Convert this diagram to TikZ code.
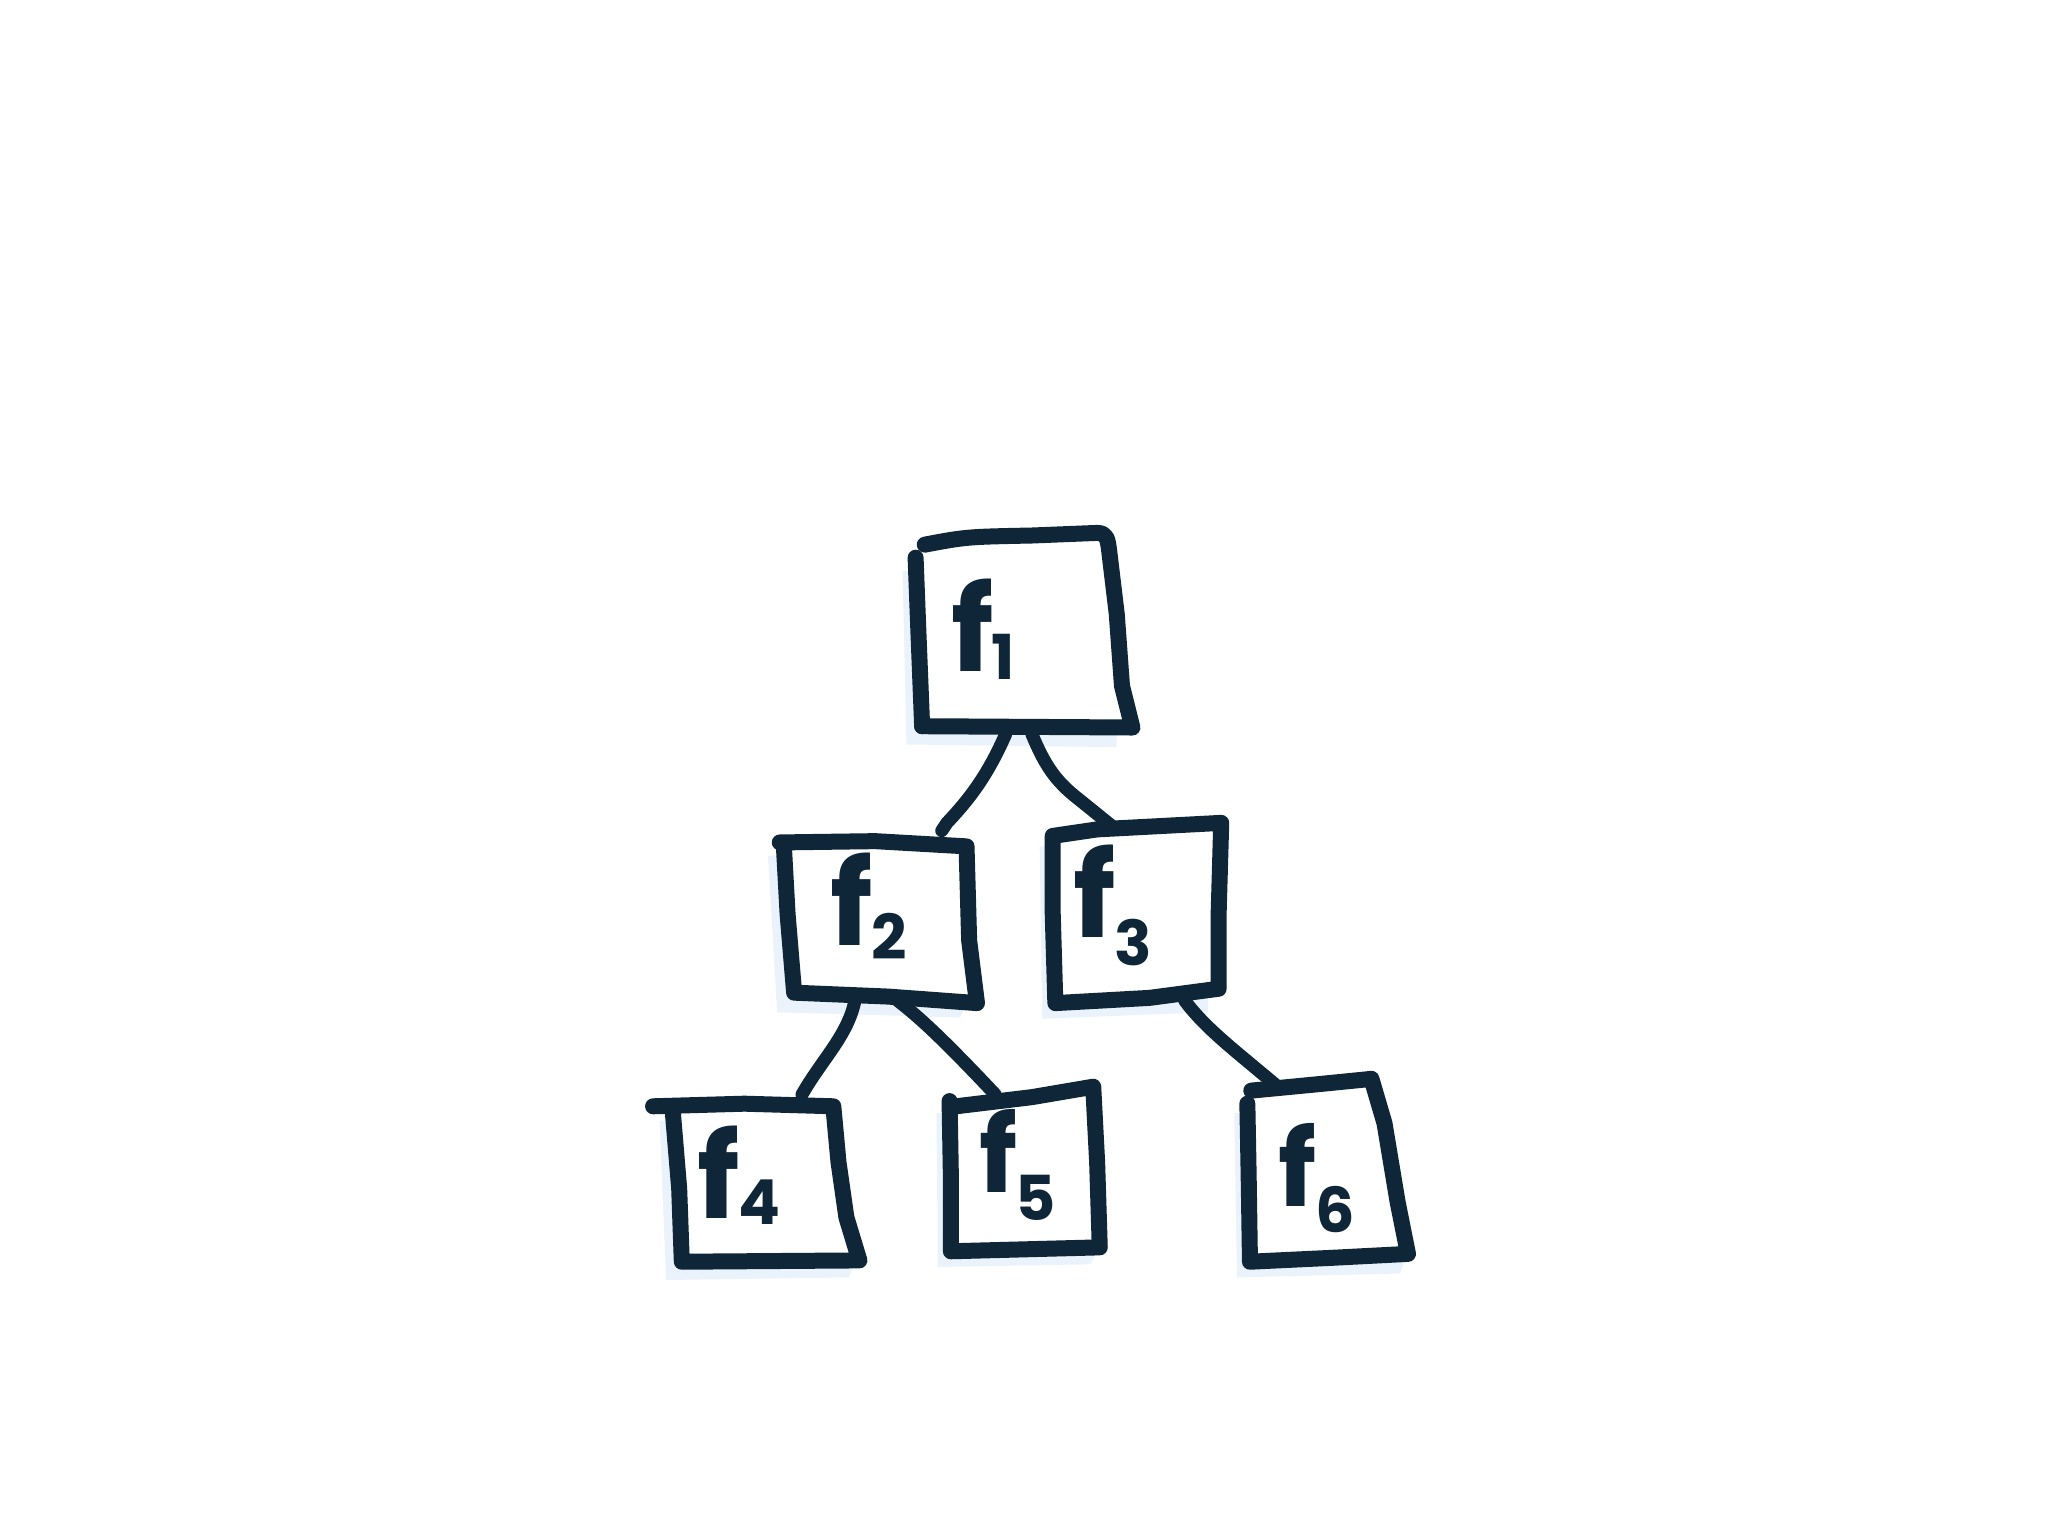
\documentclass[tikz,border=0pt]{standalone}
\usepackage{fontspec}
\newfontfamily\handfont{Poppins}
\definecolor{ink}{HTML}{0E2638}
\definecolor{shade}{HTML}{EAF3FB}
\newcommand\flab[2]{f\kern-2pt\raisebox{-#2pt}{\fontsize{62}{62}\selectfont #1}}
\begin{document}
\begin{tikzpicture}[x=1.306122pt,y=-1.306122pt,line cap=round,line join=round,
  inkline/.style={draw=ink,line width=16pt},
  linkline/.style={draw=ink,line width=13pt},
  boxfill/.style={fill=white},
  shadowfill/.style={fill=shade},
  lbl/.style={font=\handfont\fontseries{sb}\bfseries\fontsize{118}{118}\selectfont,text=ink,inner sep=0pt,anchor=base west}]
\useasboundingbox (0,0) rectangle (1568,1176);

% ---------- shadows ----------
\fill[shadowfill] (691,437) -- (694,570) -- (855,572) -- (855,555) -- (706,552) -- (703,437) -- cycle;
\fill[shadowfill] (588,655) -- (595,775) -- (735,779) -- (740,768) -- (607,760) -- (600,655) -- cycle;
\fill[shadowfill] (796,648) -- (798,780) -- (925,775) -- (925,762) -- (808,768) -- (806,648) -- cycle;
\fill[shadowfill] (505,858) -- (510,980) -- (650,978) -- (655,966) -- (520,966) -- (515,858) -- cycle;
\fill[shadowfill] (717,852) -- (718,970) -- (835,968) -- (840,957) -- (728,958) -- (727,852) -- cycle;
\fill[shadowfill] (945,852) -- (947,978) -- (1072,975) -- (1076,963) -- (957,966) -- (955,852) -- cycle;

% ---------- boxes ----------
\path[boxfill] (703,425) -- (708,417) -- (840,408) -- (849,420) -- (858,520) -- (867,557) -- (706,557) -- cycle;
\draw[inkline] (708,417) .. controls (740,411) .. (790,410) -- (840,408) .. controls (848,408) and (848,414) .. (849,420) -- (855,470) -- (859,525) -- (867,557) -- (706,556);
\draw[inkline] (701,427) -- (703,480) -- (706,556);

\path[boxfill] (600,645) -- (740,648) -- (748,768) -- (607,760) -- cycle;
\draw[inkline] (597,645) -- (670,644) -- (740,648) -- (742,720) -- (748,768) -- (680,763) -- (608,760) -- (603,700) -- (600,645);

\path[boxfill] (806,637) -- (935,630) -- (933,757) -- (808,768) -- cycle;
\draw[inkline] (806,640) -- (840,635) -- (935,630) -- (933,700) -- (933,757) -- (880,764) -- (808,768) -- (806,700) -- (806,640);

\path[boxfill] (515,850) -- (638,847) -- (658,965) -- (520,966) -- cycle;
\draw[inkline] (500,847) -- (570,845) -- (638,847) -- (642,890) -- (648,932) -- (658,965) -- (522,966) -- (520,910) -- (515,850);

\path[boxfill] (727,843) -- (837,832) -- (842,955) -- (728,958) -- cycle;
\draw[inkline] (732,847) -- (790,840) -- (837,832) -- (840,890) -- (842,955) -- (728,958) -- (728,900) -- (727,843);

\path[boxfill] (955,840) -- (1052,826) -- (1078,962) -- (957,966) -- cycle;
\draw[inkline] (958,835) -- (1010,830) -- (1050,826) -- (1060,860) -- (1070,920) -- (1078,960) -- (1020,963) -- (957,966) -- (956,900) -- (955,845);

% ---------- labels ----------
\node[lbl] (f1) at (728,514) {\flab{1}{8}};
\node[lbl] (f2) at (636,724) {\flab{2}{14}};
\node[lbl] (f3) at (822,718) {\flab{3}{28}};
\node[lbl] (f4) at (534,933) {\flab{4}{6}};
\node[lbl,font=\handfont\bfseries\fontsize{106}{106}\selectfont] (f5) at (750,913) {\flab{5}{28}};
\node[lbl,font=\handfont\bfseries\fontsize{106}{106}\selectfont] (f6) at (979,924) {\flab{6}{26}};

% ---------- connector ends ----------
\coordinate (b1l) at (770,562);
\coordinate (b1r) at (790,562);
\coordinate (t2) at (721,636);
\coordinate (t3) at (852,633);
\coordinate (b2l) at (655,764);
\coordinate (b2r) at (686,765);
\coordinate (t4) at (614,838);
\coordinate (t5) at (762,838);
\coordinate (b3) at (907,766);
\coordinate (t6) at (976,830);

% ---------- connectors ----------
\draw[linkline] (b1l) .. controls (756,594) and (742,612) .. (725,630) -- (t2);
\draw[linkline] (b1r) .. controls (800,586) and (808,598) .. (826,612) -- (t3);
\draw[linkline] (b2l) .. controls (650,792) and (630,810) .. (t4);
\draw[linkline] (b2r) .. controls (700,776) and (715,788) .. (t5);
\draw[linkline] (b3) .. controls (922,786) and (940,800) .. (t6);
\end{tikzpicture}
\end{document}
